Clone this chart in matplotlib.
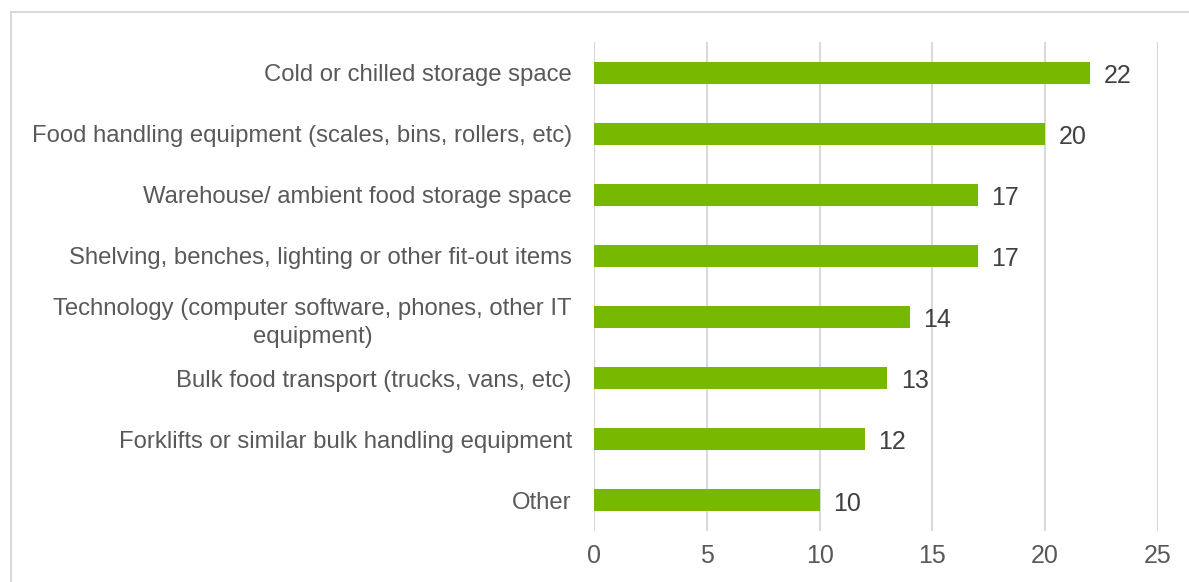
import matplotlib.pyplot as plt
import matplotlib.patches as patches

plt.rcParams['font.family'] = 'sans-serif'
plt.rcParams['font.sans-serif'] = ['Liberation Sans', 'DejaVu Sans']

categories = [
    'Cold or chilled storage space',
    'Food handling equipment (scales, bins, rollers, etc)',
    'Warehouse/ ambient food storage space',
    'Shelving, benches, lighting or other fit-out items',
    'Technology (computer software, phones, other IT\nequipment)',
    'Bulk food transport (trucks, vans, etc)',
    'Forklifts or similar bulk handling equipment',
    'Other',
]
counts = [22, 20, 17, 17, 14, 13, 12, 10]
x_ticks = [0, 5, 10, 15, 20, 25]

bar_color = '#76b900'
grid_color = '#d9d9d9'

fig = plt.figure(figsize=(11.89, 5.82), dpi=100)
ax = fig.add_axes([0.4996, 0.0876, 0.4743, 0.8402])

y_pos = list(range(len(categories)))
ax.barh(y_pos, counts, height=0.36, color=bar_color, zorder=3)

for y, v in zip(y_pos, counts):
    ax.text(v + 0.6, y + 0.05, str(v), va='center', ha='left',
            fontsize=18, color='#404040')

ax.set_xlim(0, 25)
ax.set_ylim(len(categories) - 0.5, -0.5)
ax.set_xticks(x_ticks)
ax.set_yticks(y_pos)
ax.set_yticklabels(categories, multialignment='center', linespacing=1.4)

ax.tick_params(axis='y', length=0, pad=16, labelsize=17.2, labelcolor='#595959')
ax.tick_params(axis='x', length=0, pad=9, labelsize=18, labelcolor='#595959')

# vertical grid lines only
ax.grid(axis='x', color=grid_color, linewidth=1.5, zorder=0)
for spine in ['top', 'right', 'bottom', 'left']:
    ax.spines[spine].set_visible(False)

# light frame around the chart area
frame = patches.Rectangle((11 / 1189, -0.05), 1.1, (582 - 12) / 582 + 0.05,
                          transform=fig.transFigure, fill=False,
                          edgecolor=grid_color, linewidth=1.5)
fig.patches.append(frame)

fig.savefig('out.png', dpi=100)
plt.close()
